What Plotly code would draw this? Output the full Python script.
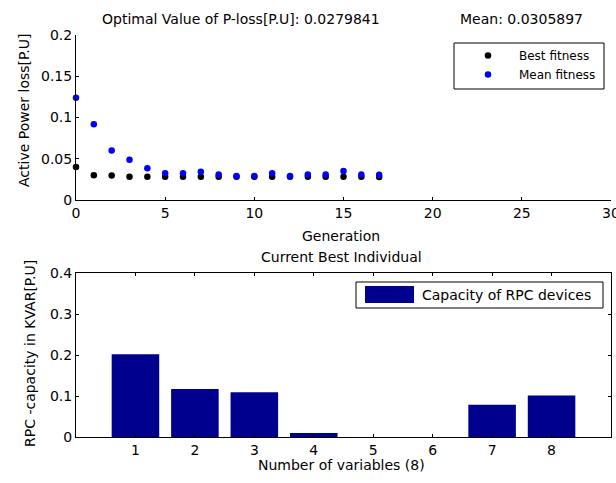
import plotly.graph_objects as go

# ---- data ----
generations = list(range(18))
best_fitness = [0.0400, 0.0300, 0.0298, 0.0281, 0.0281, 0.0281, 0.0281, 0.0281, 0.0281,
                0.0281, 0.0281, 0.0281, 0.0281, 0.0281, 0.0281, 0.0281, 0.0281, 0.0280]
mean_fitness = [0.1238, 0.0917, 0.0600, 0.0487, 0.0386, 0.0325, 0.0325, 0.0341, 0.0309,
                0.0292, 0.0292, 0.0325, 0.0292, 0.0310, 0.0310, 0.0350, 0.0308, 0.0306]
variables = [1, 2, 3, 4, 5, 6, 7, 8]
capacity = [0.2017, 0.1168, 0.1094, 0.0098, 0.0, 0.0, 0.0784, 0.1013]
top_xticks = [0, 5, 10, 15, 20, 25, 30]
top_yticks = [0, 0.05, 0.1, 0.15, 0.2]
bot_yticks = [0, 0.1, 0.2, 0.3, 0.4]

W, H = 616, 483
ML, MR, MT, MB = 76, 5, 35, 46
PW, PH = W - ML - MR, H - MT - MB

def px(x):
    return (x - ML) / PW

def py(y):
    return (H - MB - y) / PH

FONT = "DejaVu Sans, Liberation Sans, Arial, sans-serif"
NAVY = "#00008F"
FS = 14

fig = go.Figure()
fig.add_trace(go.Scatter(x=generations, y=best_fitness, mode="markers", name="Best fitness",
                         marker=dict(color="black", size=6.5), cliponaxis=False,
                         xaxis="x", yaxis="y"))
fig.add_trace(go.Scatter(x=generations, y=mean_fitness, mode="markers", name="Mean fitness",
                         marker=dict(color="#0000FF", size=6.5), cliponaxis=False,
                         xaxis="x", yaxis="y"))
fig.add_trace(go.Bar(x=variables, y=capacity, width=0.8, marker=dict(color=NAVY, line=dict(width=0)),
                     showlegend=False, xaxis="x2", yaxis="y2"))

axis_common = dict(showgrid=False, zeroline=False, showline=True, linecolor="black", linewidth=1,
                   ticks="inside", ticklen=3, tickcolor="black", automargin=False,
                   tickfont=dict(family=FONT, size=FS, color="black"))

fig.update_layout(
    width=W, height=H,
    margin=dict(l=ML, r=MR, t=MT, b=MB, autoexpand=False),
    paper_bgcolor="white", plot_bgcolor="white",
    font=dict(family=FONT, size=FS, color="black"),
    xaxis=dict(domain=[0, 1], range=[0, 30], tickvals=top_xticks, anchor="y",
               ticklabeloverflow="allow", **axis_common),
    yaxis=dict(domain=[py(200), 1], range=[0, 0.2], tickvals=top_yticks, anchor="x", **axis_common),
    xaxis2=dict(domain=[0, 1], range=[0, 9], tickvals=variables, anchor="y2", mirror="ticks", **axis_common),
    yaxis2=dict(domain=[0, py(273)], range=[0, 0.4], tickvals=bot_yticks, anchor="x2", mirror="ticks", **axis_common),
    bargap=0.2,
    legend=dict(x=px(457), y=py(41), xanchor="left", yanchor="top", bgcolor="rgba(0,0,0,0)",
                borderwidth=0, itemwidth=52, font=dict(family=FONT, size=12, color="black"),
                tracegroupgap=7),
)

shapes = [
    dict(type="rect", xref="paper", yref="paper", x0=px(454), x1=px(604), y0=py(89), y1=py(43),
         line=dict(color="black", width=1), fillcolor="white", layer="below"),
    dict(type="rect", xref="paper", yref="paper", x0=px(356), x1=px(603), y0=py(308), y1=py(282),
         line=dict(color="black", width=1), fillcolor="white"),
    dict(type="rect", xref="paper", yref="paper", x0=px(365), x1=px(414), y0=py(303), y1=py(286),
         line=dict(width=0), fillcolor=NAVY),
]
fig.update_layout(shapes=shapes)

ann = [
    dict(text="Optimal Value of P-loss[P.U]: 0.0279841", x=px(241), y=py(19)),
    dict(text="Mean: 0.0305897", x=px(521.5), y=py(19)),
    dict(text="Generation", x=px(341), y=py(236)),
    dict(text="Current Best Individual", x=px(341), y=py(257)),
    dict(text="Number of variables (8)", x=px(341), y=py(465)),
    dict(text="Active Power loss[P.U]", x=px(24), y=py(111), textangle=-90),
    dict(text="RPC -capacity in KVAR[P.U]", x=px(30), y=py(354), textangle=-90),
    dict(text="Capacity of RPC devices", x=px(420), y=py(295), xanchor="left"),
]
for a in ann:
    base = dict(xref="paper", yref="paper", showarrow=False, xanchor="center", yanchor="middle",
                font=dict(family=FONT, size=FS, color="black"))
    base.update(a)
    fig.add_annotation(**base)

fig.write_html("out.html")
